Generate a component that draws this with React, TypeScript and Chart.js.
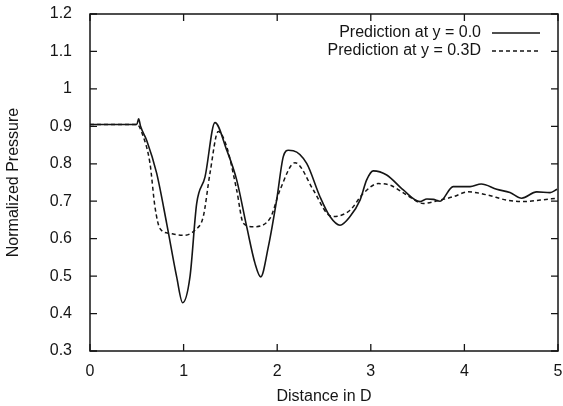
import React, { useEffect, useRef } from "react";
import { Chart, registerables } from "chart.js";

Chart.register(...registerables);

const solidX = [0, 0.5, 0.52, 0.54, 0.605, 0.712, 0.819, 0.926, 0.99, 1.068, 1.14, 1.229, 1.335, 1.46, 1.567, 1.674, 1.763, 1.824, 1.905, 1.994, 2.065, 2.12, 2.172, 2.315, 2.457, 2.564, 2.671, 2.778, 2.885, 2.956, 3.027, 3.17, 3.347, 3.526, 3.6, 3.668, 3.74, 3.88, 4.06, 4.18, 4.345, 4.487, 4.612, 4.772, 4.915, 4.99];
const solidY = [0.905, 0.905, 0.92, 0.9, 0.863, 0.775, 0.641, 0.498, 0.429, 0.498, 0.694, 0.765, 0.91, 0.837, 0.757, 0.632, 0.534, 0.498, 0.578, 0.703, 0.819, 0.836, 0.835, 0.801, 0.712, 0.659, 0.636, 0.659, 0.703, 0.757, 0.781, 0.77, 0.73, 0.699, 0.706, 0.705, 0.7, 0.739, 0.739, 0.746, 0.732, 0.723, 0.708, 0.725, 0.723, 0.732];

const dashX = [0, 0.5, 0.57, 0.641, 0.694, 0.748, 0.855, 0.997, 1.122, 1.21, 1.282, 1.37, 1.46, 1.567, 1.638, 1.745, 1.923, 2.03, 2.19, 2.386, 2.53, 2.6, 2.778, 2.92, 3.08, 3.205, 3.383, 3.56, 3.74, 3.88, 4.04, 4.24, 4.45, 4.63, 4.81, 4.99];
const dashY = [0.905, 0.905, 0.872, 0.801, 0.685, 0.627, 0.614, 0.609, 0.623, 0.659, 0.775, 0.886, 0.846, 0.73, 0.641, 0.632, 0.654, 0.73, 0.803, 0.73, 0.668, 0.659, 0.676, 0.721, 0.747, 0.743, 0.717, 0.694, 0.703, 0.712, 0.725, 0.717, 0.703, 0.699, 0.703, 0.708];

const seriesLabels = ["Prediction at y = 0.0", "Prediction at y = 0.3D"];
const xTicks = [0, 1, 2, 3, 4, 5];
const yTicks = [0.3, 0.4, 0.5, 0.6, 0.7, 0.8, 0.9, 1, 1.1, 1.2];
const xTitle = "Distance in D";
const yTitle = "Normalized Pressure";

const INK = "#151515";
const FONT = "'Liberation Sans', Arial, sans-serif";

const framePlugin = {
  id: "frame",
  afterDatasetsDraw(chart: any) {
    const { ctx, chartArea: a, scales } = chart;
    ctx.save();
    ctx.strokeStyle = INK;
    ctx.lineWidth = 1.5;
    ctx.strokeRect(a.left, a.top, a.right - a.left, a.bottom - a.top);
    ctx.lineWidth = 1.3;
    const tl = 7;
    ctx.beginPath();
    for (const v of xTicks) {
      const x = scales.x.getPixelForValue(v);
      ctx.moveTo(x, a.bottom);
      ctx.lineTo(x, a.bottom - tl);
      ctx.moveTo(x, a.top);
      ctx.lineTo(x, a.top + tl);
    }
    for (const v of yTicks) {
      const y = scales.y.getPixelForValue(v);
      ctx.moveTo(a.left, y);
      ctx.lineTo(a.left + tl, y);
      ctx.moveTo(a.right, y);
      ctx.lineTo(a.right - tl, y);
    }
    ctx.stroke();
    // legend
    ctx.font = `16px ${FONT}`;
    ctx.fillStyle = INK;
    ctx.textAlign = "right";
    ctx.textBaseline = "middle";
    const rows = [33, 51];
    const dashes = [[], [4, 3]];
    seriesLabels.forEach((t, i) => {
      ctx.fillText(t, 481, rows[i]);
      ctx.beginPath();
      ctx.setLineDash(dashes[i]);
      ctx.lineWidth = 1.5;
      ctx.moveTo(492, rows[i]);
      ctx.lineTo(540, rows[i]);
      ctx.stroke();
    });
    ctx.restore();
  },
};

export default function App() {
  const ref = useRef<HTMLCanvasElement>(null);
  useEffect(() => {
    document.body.style.margin = "0";
    const chart = new Chart(ref.current!, {
      type: "line",
      data: {
        datasets: [
          {
            label: seriesLabels[0],
            data: solidX.map((x, i) => ({ x, y: solidY[i] })),
            borderColor: INK,
            borderWidth: 1.6,
            pointRadius: 0,
            cubicInterpolationMode: "monotone",
          },
          {
            label: seriesLabels[1],
            data: dashX.map((x, i) => ({ x, y: dashY[i] })),
            borderColor: INK,
            borderWidth: 1.5,
            borderDash: [4, 3],
            pointRadius: 0,
            cubicInterpolationMode: "monotone",
          },
        ],
      },
      options: {
        responsive: false,
        animation: false,
        layout: { padding: { top: 14, right: 5, left: 0, bottom: 0 } },
        plugins: { legend: { display: false }, tooltip: { enabled: false } },
        scales: {
          x: {
            type: "linear",
            min: 0,
            max: 5,
            grid: { display: false },
            border: { display: false },
            afterBuildTicks: (s: any) => {
              s.ticks = xTicks.map((v) => ({ value: v }));
            },
            afterFit: (s: any) => {
              s.height = 55;
              s.paddingRight = 0;
              s.paddingLeft = 0;
            },
            ticks: { color: INK, font: { size: 16, family: FONT }, padding: 3, maxRotation: 0, callback: (v: any) => String(v) },
            title: { display: true, text: xTitle, color: INK, font: { size: 16, family: FONT }, padding: { top: 4, bottom: 0 } },
          },
          y: {
            type: "linear",
            min: 0.3,
            max: 1.2,
            grid: { display: false },
            border: { display: false },
            afterBuildTicks: (s: any) => {
              s.ticks = yTicks.map((v) => ({ value: v }));
            },
            afterFit: (s: any) => {
              s.width = 90;
              s.paddingTop = 0;
              s.paddingBottom = 0;
            },
            ticks: { color: INK, font: { size: 16, family: FONT }, padding: 10, callback: (v: any) => String(Math.round(v * 10) / 10) },
            title: { display: true, text: yTitle, color: INK, font: { size: 16, family: FONT }, padding: { bottom: 0 } },
          },
        },
      },
      plugins: [framePlugin],
    } as any);
    return () => chart.destroy();
  }, []);
  return (
    <div style={{ position: "absolute", left: 0, top: 0, width: 563, height: 406, background: "#fff" }}>
      <canvas ref={ref} width={563} height={406} />
    </div>
  );
}
